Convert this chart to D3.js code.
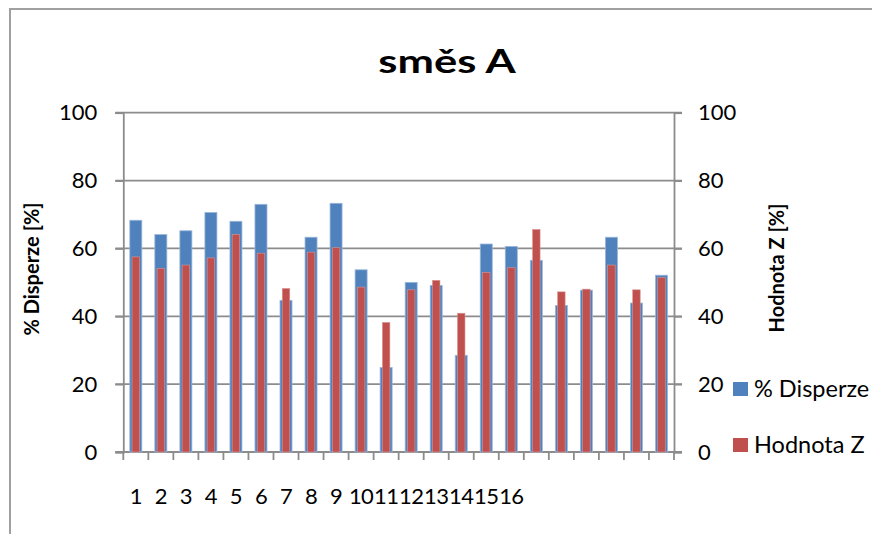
<!DOCTYPE html>
<html>
<head>
<meta charset="utf-8">
<script src="https://cdn.jsdelivr.net/npm/d3@7"></script>
<style>
  body { margin: 0; background: #fff; }
  svg { display: block; font-family: Lato, "Open Sans", sans-serif; }
</style>
</head>
<body>
<div id="chart"></div>
<script>
// směs A – % Disperze vs Hodnota Z
const categories = d3.range(1, 23);
const tickLabels = ["1","2","3","4","5","6","7","8","9","10","11","12","13","14","15","16","","","","","",""];
const disperze = [68.3, 64.1, 65.2, 70.6, 68.0, 73.0, 44.7, 63.3, 73.3, 53.7, 24.9,
                  50.0, 49.1, 28.5, 61.3, 60.6, 56.5, 43.2, 47.7, 63.3, 43.9, 52.1];
const hodnotaZ = [57.5, 54.1, 55.1, 57.2, 64.1, 58.6, 48.2, 58.9, 60.2, 48.6, 38.2,
                  47.8, 50.6, 40.9, 52.9, 54.3, 65.6, 47.2, 48.0, 55.1, 47.8, 51.4];
const yTicks = [0, 20, 40, 60, 80, 100];

const W = 872, H = 534;
const margin = {top: 112.7, right: 198, bottom: 82, left: 123.3};
const svg = d3.select("#chart").append("svg").attr("width", W).attr("height", H);

// outer chart frame (runs off the right/bottom edge like the original)
svg.append("rect").attr("x", 10).attr("y", 9).attr("width", W + 20).attr("height", H + 20)
  .attr("fill", "none").attr("stroke", "#a0a0a0").attr("stroke-width", 2);

const x = d3.scaleBand().domain(categories).range([margin.left, W - margin.right]);
const y = d3.scaleLinear().domain([0, 100]).range([H - margin.bottom, margin.top]);
const y2 = d3.scaleLinear().domain([0, 100]).range([H - margin.bottom, margin.top]);
const x0 = margin.left, x1 = W - margin.right, y0 = y(0);
const gridCol = "#8c8c8c";
const fs = 22;

// gridlines with left tick extension
svg.append("g").selectAll("line").data(yTicks).join("line")
  .attr("x1", x0 - 8).attr("x2", x1 + 8)
  .attr("y1", d => y(d)).attr("y2", d => y(d))
  .attr("stroke", gridCol).attr("stroke-width", 1.8);

// left axis
const gl = svg.append("g").attr("transform", `translate(${x0},0)`)
  .call(d3.axisLeft(y).tickValues(yTicks).tickSize(8).tickPadding(18));
gl.select(".domain").attr("stroke", gridCol).attr("stroke-width", 1.8);
gl.selectAll(".tick line").attr("stroke", gridCol).attr("stroke-width", 1.8);
gl.selectAll("text").attr("font-size", fs).attr("font-family", "Lato").attr("fill", "#000");

// right axis
const gr = svg.append("g").attr("transform", `translate(${x1},0)`)
  .call(d3.axisRight(y2).tickValues(yTicks).tickSize(8).tickPadding(16));
gr.select(".domain").attr("stroke", gridCol).attr("stroke-width", 1.8);
gr.selectAll(".tick line").attr("stroke", gridCol).attr("stroke-width", 1.8);
gr.selectAll("text").attr("font-size", fs).attr("font-family", "Lato").attr("fill", "#000");

// bars
const bw = x.bandwidth() * 0.48, rw = x.bandwidth() * 0.3;
svg.append("g").selectAll("rect").data(disperze).join("rect")
  .attr("x", (d, i) => x(categories[i]) + (x.bandwidth() - bw) / 2)
  .attr("y", d => y(d)).attr("width", bw).attr("height", d => y0 - y(d))
  .attr("fill", "#4F81BD").attr("stroke", "#9bb7db").attr("stroke-width", 0.8);
svg.append("g").selectAll("rect").data(hodnotaZ).join("rect")
  .attr("x", (d, i) => x(categories[i]) + (x.bandwidth() - rw) / 2)
  .attr("y", d => y2(d)).attr("width", rw).attr("height", d => y0 - y2(d))
  .attr("fill", "#C0504D").attr("stroke", "#d99694").attr("stroke-width", 0.6);

// x axis
const gx = svg.append("g").attr("transform", `translate(0,${y0})`)
  .call(d3.axisBottom(x).tickSize(0).tickPadding(36).tickFormat((d, i) => tickLabels[i]));
gx.select(".domain").remove();
gx.selectAll("text").attr("font-size", fs).attr("font-family", "Lato").attr("fill", "#000")
  .attr("letter-spacing", -0.6);
svg.append("g").selectAll("line").data(categories.concat([null])).join("line")
  .attr("x1", (d, i) => x0 + i * x.step()).attr("x2", (d, i) => x0 + i * x.step())
  .attr("y1", y0).attr("y2", y0 + 8)
  .attr("stroke", gridCol).attr("stroke-width", 1.8);

// titles
svg.append("text").attr("transform", "translate(447,73) scale(1.32,1)")
  .attr("text-anchor", "middle")
  .attr("font-size", 33).attr("font-weight", "bold").text("směs A");
svg.append("text").attr("transform", `translate(39,269) rotate(-90)`)
  .attr("text-anchor", "middle").attr("font-size", 20).attr("font-weight", "bold")
  .text("% Disperze [%]");
svg.append("text").attr("transform", `translate(784,268) rotate(-90)`)
  .attr("text-anchor", "middle").attr("font-size", 20).attr("font-weight", "bold")
  .text("Hodnota Z [%]");

// legend
const legend = [["% Disperze", "#4F81BD"], ["Hodnota Z", "#C0504D"]];
const lg = svg.append("g").selectAll("g").data(legend).join("g")
  .attr("transform", (d, i) => `translate(733,${382 + i * 56})`);
lg.append("rect").attr("width", 15).attr("height", 14).attr("fill", d => d[1]);
lg.append("text").attr("x", 21).attr("y", 15).attr("font-size", 23.5).text(d => d[0]);
</script>
</body>
</html>
